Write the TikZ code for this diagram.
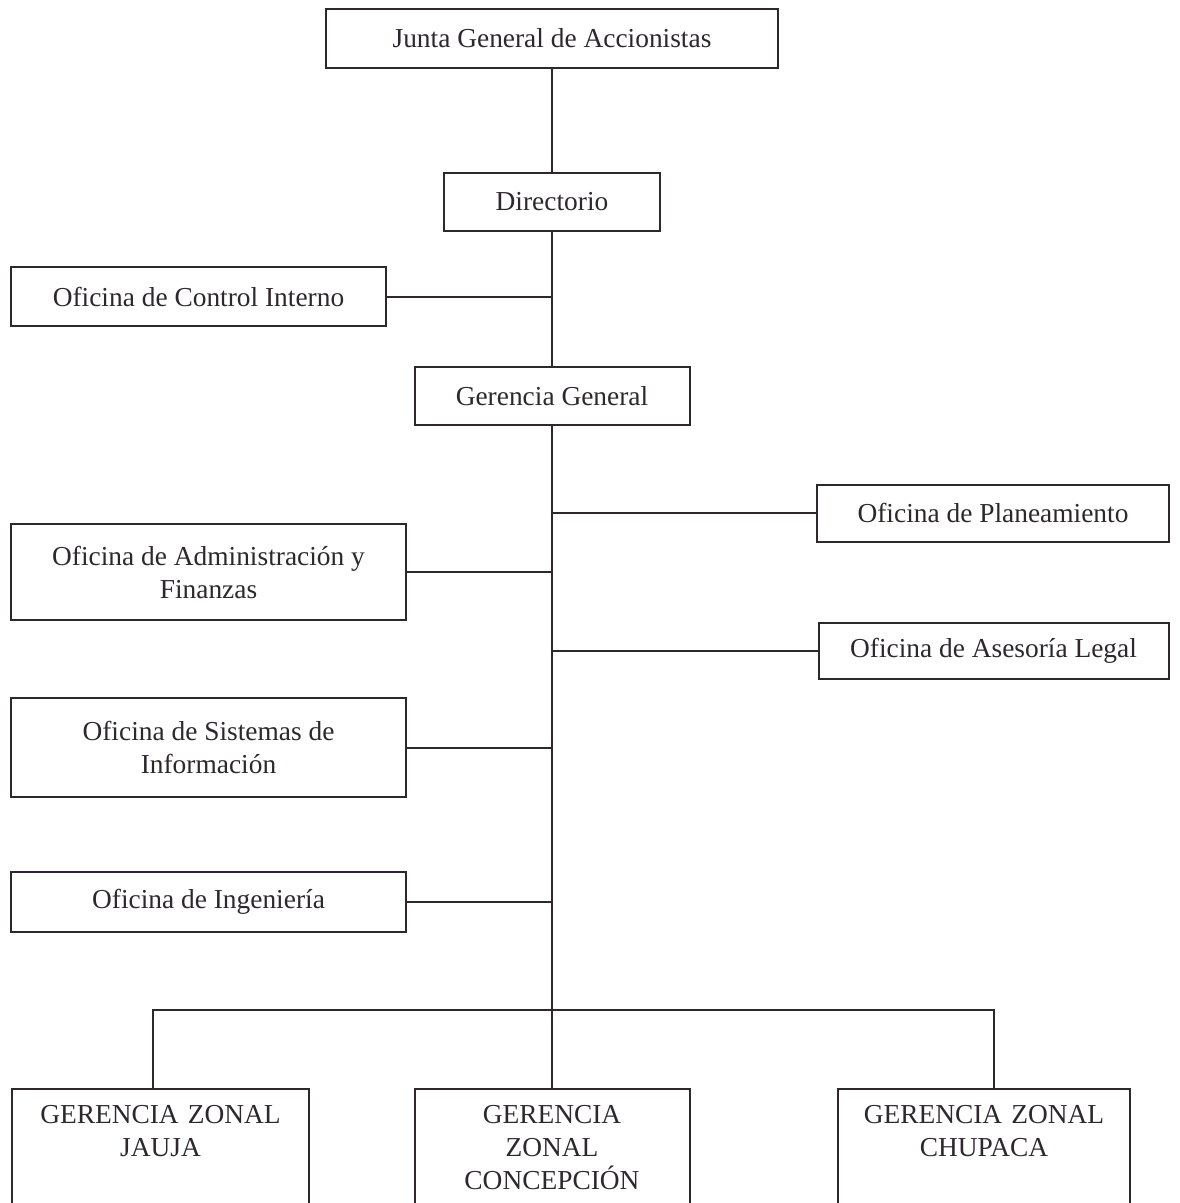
\documentclass[tikz,border=0pt]{standalone}
\usepackage{fontspec}
\setmainfont{Liberation Serif}
\usetikzlibrary{positioning}
\definecolor{ink}{RGB}{46,40,46}

\begin{document}
\begin{tikzpicture}[x=0.5pt,y=-0.5pt,
 box/.style={draw=ink,line width=1pt,text=ink,font=\fontsize{13.7}{16.5}\selectfont,align=center,inner sep=0pt},
 zonal/.style={box,anchor=north,text width=#1,inner ysep=8pt,text depth=70pt},
 link/.style={draw=ink,line width=1pt}]
 \useasboundingbox[fill=white] (0,0) rectangle (1179,1203);
 % top of the chart
 \node[box,minimum width=226pt,minimum height=29.5pt] (junta) at (552,38.5) {Junta General de Accionistas};
 \node[box,minimum width=108pt,minimum height=29pt] (dir) at (552,202) {Directorio};
 \node[box,minimum width=187.5pt,minimum height=29.5pt] (control) at (198.5,297) {Oficina de Control Interno};
 \node[box,minimum width=137.5pt,minimum height=29pt] (gg) at (552,396) {Gerencia General};
 % staff offices
 \node[box,minimum width=176pt,minimum height=28.5pt] (plan) at (993,513) {Oficina de Planeamiento};
 \node[box,minimum width=197.5pt,minimum height=48pt] (admin) at (208.5,572) {Oficina de Administración y\\Finanzas};
 \node[box,minimum width=175pt,minimum height=28pt] (legal) at (993.5,651) {Oficina de Asesoría Legal};
 \node[box,minimum width=197.5pt,minimum height=49.5pt] (sist) at (208.5,747.5) {Oficina de Sistemas de\\Información};
 \node[box,minimum width=197.5pt,minimum height=30pt] (inge) at (208.5,902) {Oficina de Ingeniería};
 % zonal offices
 \node[zonal=148.5pt] (jauja) at (160.5,1088) {GERENCIA ZONAL\\JAUJA};
 \node[zonal=137.5pt] (concep) at (552,1088) {GERENCIA\\ZONAL\\CONCEPCIÓN};
 \node[zonal=146pt] (chupaca) at (984,1088) {GERENCIA ZONAL\\CHUPACA};
 \coordinate (bus) at (552,1010);
 % lines
 \draw[link] (junta.south) -- (dir.north);
 \draw[link] (dir.south) -- (gg.north);
 \draw[link] (gg.south) -- (concep.north);
 \draw[link] (control.east) -- (control.east -| dir.south);
 \draw[link] (plan.west) -- (plan.west -| gg.south);
 \draw[link] (legal.west) -- (legal.west -| gg.south);
 \draw[link] (admin.east) -- (admin.east -| gg.south);
 \draw[link] (sist.east) -- (sist.east -| gg.south);
 \draw[link] (inge.east) -- (inge.east -| gg.south);
 \draw[link] ([xshift=-4pt]jauja.north) |- ([xshift=5pt]chupaca.north |- bus) -- ([xshift=5pt]chupaca.north);
\end{tikzpicture}
\end{document}
